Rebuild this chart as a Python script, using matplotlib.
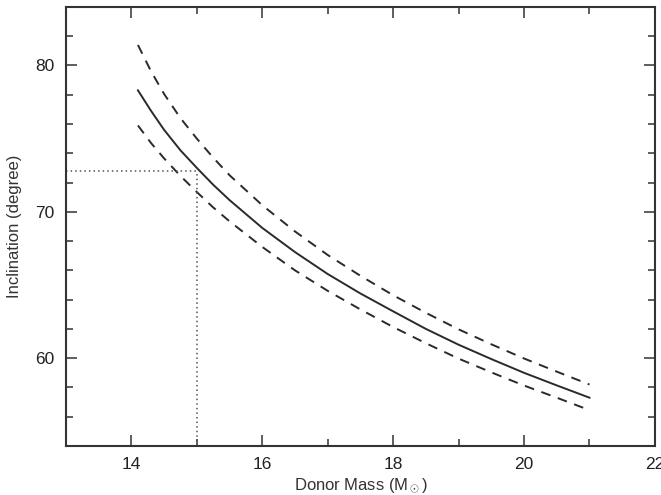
import matplotlib
matplotlib.use("Agg")
import matplotlib.pyplot as plt
from matplotlib.ticker import MultipleLocator

plt.rcParams['font.family'] = ['Liberation Sans', 'DejaVu Sans']
plt.rcParams['mathtext.fontset'] = 'custom'
plt.rcParams['mathtext.rm'] = 'Liberation Sans'
plt.rcParams['mathtext.it'] = 'Liberation Sans:italic'

donor_mass = [14.1, 14.3, 14.5, 14.75, 15.0, 15.25, 15.5, 16.0, 16.5, 17.0, 17.5, 18.0, 18.5, 19.0, 19.5, 20.0, 20.5, 21.0]
incl_best = [78.3, 76.9, 75.6, 74.2, 73.0, 71.85, 70.8, 68.9, 67.25, 65.75, 64.42, 63.2, 62.0, 60.92, 59.94, 59.0, 58.14, 57.3]
incl_upper = [81.4, 79.6, 78.05, 76.4, 75.0, 73.7, 72.5, 70.45, 68.66, 67.05, 65.63, 64.3, 63.1, 61.97, 60.95, 59.98, 59.08, 58.2]
incl_lower = [75.9, 74.7, 73.65, 72.45, 71.35, 70.3, 69.35, 67.6, 66.0, 64.6, 63.33, 62.13, 61.02, 59.97, 59.03, 58.13, 57.3, 56.45]
mark_mass = 15.0
mark_incl = 72.8

fig = plt.figure(figsize=(6.61, 4.95), dpi=100)
ax = fig.add_axes([0.0998, 0.099, 0.891, 0.887])

col = '#2a2a2a'
ax.plot(donor_mass, incl_best, color=col, lw=1.4)
ax.plot(donor_mass, incl_upper, color=col, lw=1.4, dashes=(5, 4))
ax.plot(donor_mass, incl_lower, color=col, lw=1.4, dashes=(5, 4))

ax.plot([13, mark_mass], [mark_incl, mark_incl], color='#555555', lw=1.1, ls=(0, (1, 2)))
ax.plot([mark_mass, mark_mass], [54, mark_incl], color='#555555', lw=1.1, ls=(0, (1, 2)))

ax.set_xlim(13, 22)
ax.set_ylim(54, 84)
ax.xaxis.set_major_locator(MultipleLocator(2))
ax.xaxis.set_minor_locator(MultipleLocator(1))
ax.yaxis.set_major_locator(MultipleLocator(10))
ax.yaxis.set_minor_locator(MultipleLocator(2))
ax.tick_params(which='both', direction='in', top=True, right=True, width=1.1, colors='#333333', labelcolor='#222222', labelsize=12.5)
ax.tick_params(which='major', length=8, pad=8)
ax.tick_params(which='minor', length=5)
for s in ax.spines.values():
    s.set_linewidth(1.5)
    s.set_color('#333333')

ax.set_xlabel(r'Donor Mass (M$_\odot$)', fontsize=12, color='#333333', labelpad=3)
ax.set_ylabel('Inclination (degree)', fontsize=12, color='#333333', labelpad=10)

fig.savefig('out.png', dpi=100)
